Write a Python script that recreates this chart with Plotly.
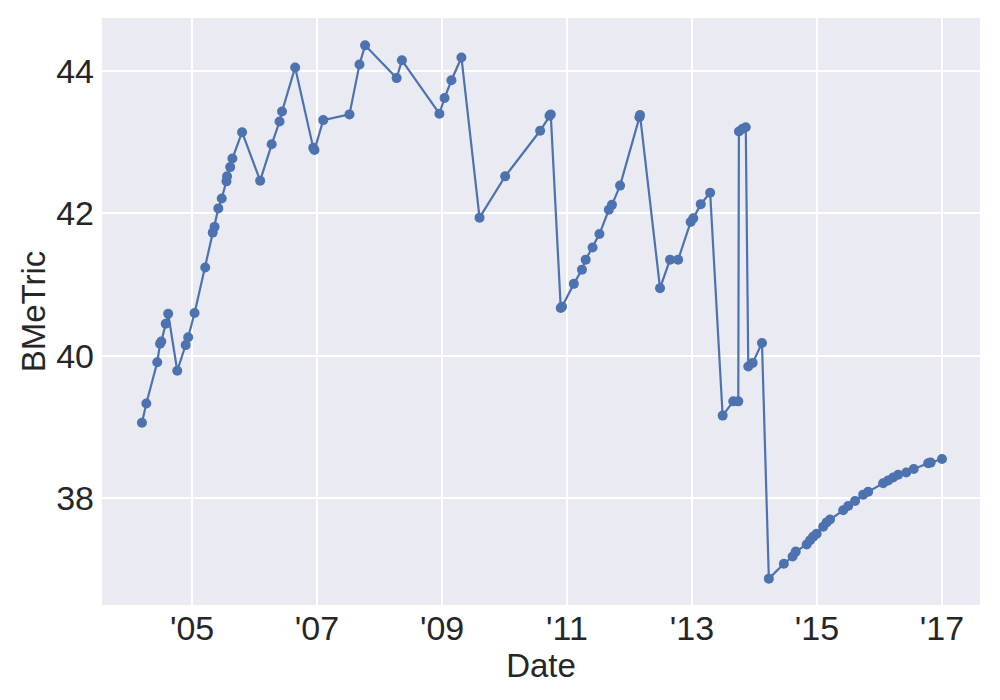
import plotly.graph_objects as go
import pandas as pd

year_frac = [
    2004.20, 2004.27, 2004.445, 2004.49, 2004.51, 2004.58, 2004.62, 2004.765, 2004.90, 2004.94,
    2005.04, 2005.21, 2005.33, 2005.36, 2005.42, 2005.475, 2005.55, 2005.56, 2005.61, 2005.645,
    2005.80, 2006.09, 2006.275, 2006.40, 2006.44, 2006.65, 2006.94, 2006.96, 2007.10, 2007.52,
    2007.68, 2007.77, 2008.275, 2008.36, 2008.96, 2009.04, 2009.15, 2009.31, 2009.60, 2010.01,
    2010.57, 2010.72, 2010.74, 2010.90, 2010.92, 2011.11, 2011.24, 2011.30, 2011.41, 2011.52,
    2011.67, 2011.72, 2011.85, 2012.16, 2012.17, 2012.49, 2012.65, 2012.78, 2012.98, 2013.02,
    2013.14, 2013.29, 2013.49, 2013.66, 2013.74, 2013.75, 2013.81, 2013.86, 2013.90, 2013.97,
    2014.12, 2014.23, 2014.47, 2014.61, 2014.66, 2014.835, 2014.89, 2014.94, 2014.995, 2015.10,
    2015.155, 2015.21, 2015.42, 2015.50, 2015.61, 2015.74, 2015.82, 2016.06, 2016.14, 2016.22,
    2016.30, 2016.43, 2016.55, 2016.78, 2016.82, 2017.00,
]
bmetric = [
    39.06, 39.33, 39.91, 40.17, 40.20, 40.45, 40.59, 39.79, 40.15, 40.26,
    40.60, 41.24, 41.73, 41.81, 42.07, 42.21, 42.45, 42.52, 42.65, 42.77,
    43.14, 42.46, 42.97, 43.29, 43.43, 44.05, 42.92, 42.89, 43.31, 43.39,
    44.09, 44.36, 43.90, 44.15, 43.40, 43.62, 43.87, 44.19, 41.94, 42.52,
    43.16, 43.37, 43.39, 40.67, 40.69, 41.01, 41.21, 41.35, 41.52, 41.71,
    42.05, 42.12, 42.39, 43.35, 43.38, 40.95, 41.35, 41.35, 41.88, 41.93,
    42.13, 42.29, 39.16, 39.36, 39.36, 43.15, 43.19, 43.21, 39.85, 39.90,
    40.18, 36.87, 37.08, 37.18, 37.25, 37.35, 37.41, 37.46, 37.50, 37.60,
    37.66, 37.70, 37.83, 37.89, 37.96, 38.05, 38.09, 38.21, 38.25, 38.29,
    38.33, 38.36, 38.41, 38.49, 38.50, 38.55,
]

tick_years = [2005, 2007, 2009, 2011, 2013, 2015, 2017]
tick_labels = ["'05", "'07", "'09", "'11", "'13", "'15", "'17"]
y_ticks = [38, 40, 42, 44]


def frac_to_date(f):
    y = int(f)
    start = pd.Timestamp(year=y, month=1, day=1)
    return start + pd.Timedelta(days=(f - y) * 365.25)


dates = [frac_to_date(f) for f in year_frac]
tick_vals = [pd.Timestamp(year=y, month=1, day=1) for y in tick_years]

fig = go.Figure()
fig.add_trace(go.Scatter(
    x=dates, y=bmetric, mode="lines+markers",
    line=dict(color="#4c72b0", width=2.2),
    marker=dict(color="#4c72b0", size=10),
    showlegend=False,
))

font_family = "Liberation Sans, Arial, sans-serif"
fig.update_layout(
    width=1000, height=700,
    margin=dict(l=94, r=28, t=10, b=103, autoexpand=False),
    paper_bgcolor="white",
    plot_bgcolor="#eaeaf2",
    font=dict(family=font_family, size=33, color="#262626"),
)
fig.update_xaxes(
    range=[frac_to_date(2003.56), frac_to_date(2017.608)],
    tickvals=tick_vals, ticktext=tick_labels,
    showgrid=True, gridcolor="white", gridwidth=1.5,
    zeroline=False, showline=False, ticks="", automargin=False,
    tickfont=dict(size=34),
    title=dict(text="Date", font=dict(size=33), standoff=4),
)
fig.update_yaxes(
    range=[36.5, 44.744],
    tickvals=y_ticks,
    showgrid=True, gridcolor="white", gridwidth=1.5,
    zeroline=False, showline=False, ticks="", automargin=False,
    ticklabelstandoff=7,
    tickfont=dict(size=34),
    title=dict(text="BMeTric", font=dict(size=33), standoff=0),
)

fig.write_html("out.html")
